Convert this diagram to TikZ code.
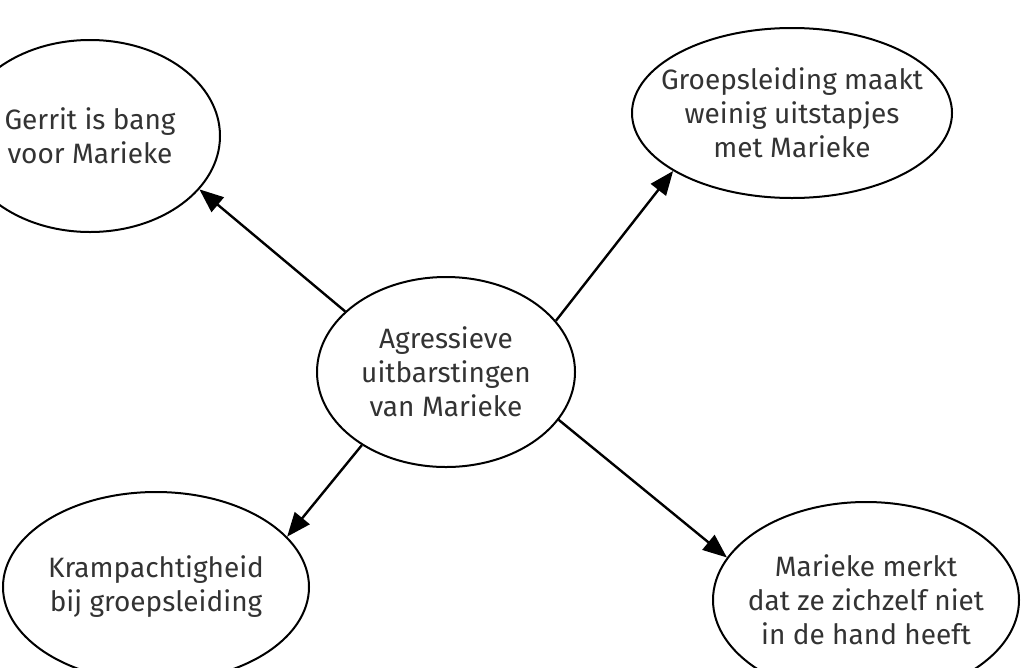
\documentclass[tikz,border=0pt]{standalone}
\usepackage{fontspec}
\setmainfont{Fira Sans}
\usetikzlibrary{shapes.geometric,arrows.meta}
\tikzset{
  bubble/.style={ellipse, draw=black, line width=2pt, inner sep=-60pt, align=center,
    text=black!80, font=\fontsize{28}{34}\selectfont},
  link/.style={line width=2.4pt, -{Triangle[length=24pt,width=19pt]}}
}
\begin{document}
\begin{tikzpicture}[x=1pt,y=-1pt]
\path[use as bounding box, clip] (0,0) rectangle (1024,667);
\fill[white] (0,0) rectangle (1024,667);
\node[bubble, minimum width=258pt, minimum height=190pt] (c) at (446,372) {Agressieve\\uitbarstingen\\van Marieke};
\node[bubble, minimum width=260pt, minimum height=192pt] (tl) at (90,136) {Gerrit is bang\\voor Marieke};
\node[bubble, minimum width=320pt, minimum height=170pt] (tr) at (792,113) {Groepsleiding maakt\\weinig uitstapjes\\met Marieke};
\node[bubble, minimum width=306pt, minimum height=190pt] (bl) at (156,587) {Krampachtigheid\\bij groepsleiding};
\node[bubble, minimum width=306pt, minimum height=196pt] (br) at (866,600) {Marieke merkt\\dat ze zichzelf niet\\in de hand heeft};
\draw[link] (c.149.7) -- (tl.-26.4);
\draw[link] (c.25.5) -- (tr.206);
\draw[link] (c.221) -- (bl.21.8);
\draw[link] (c.-23) -- (br.163.3);
\end{tikzpicture}
\end{document}
